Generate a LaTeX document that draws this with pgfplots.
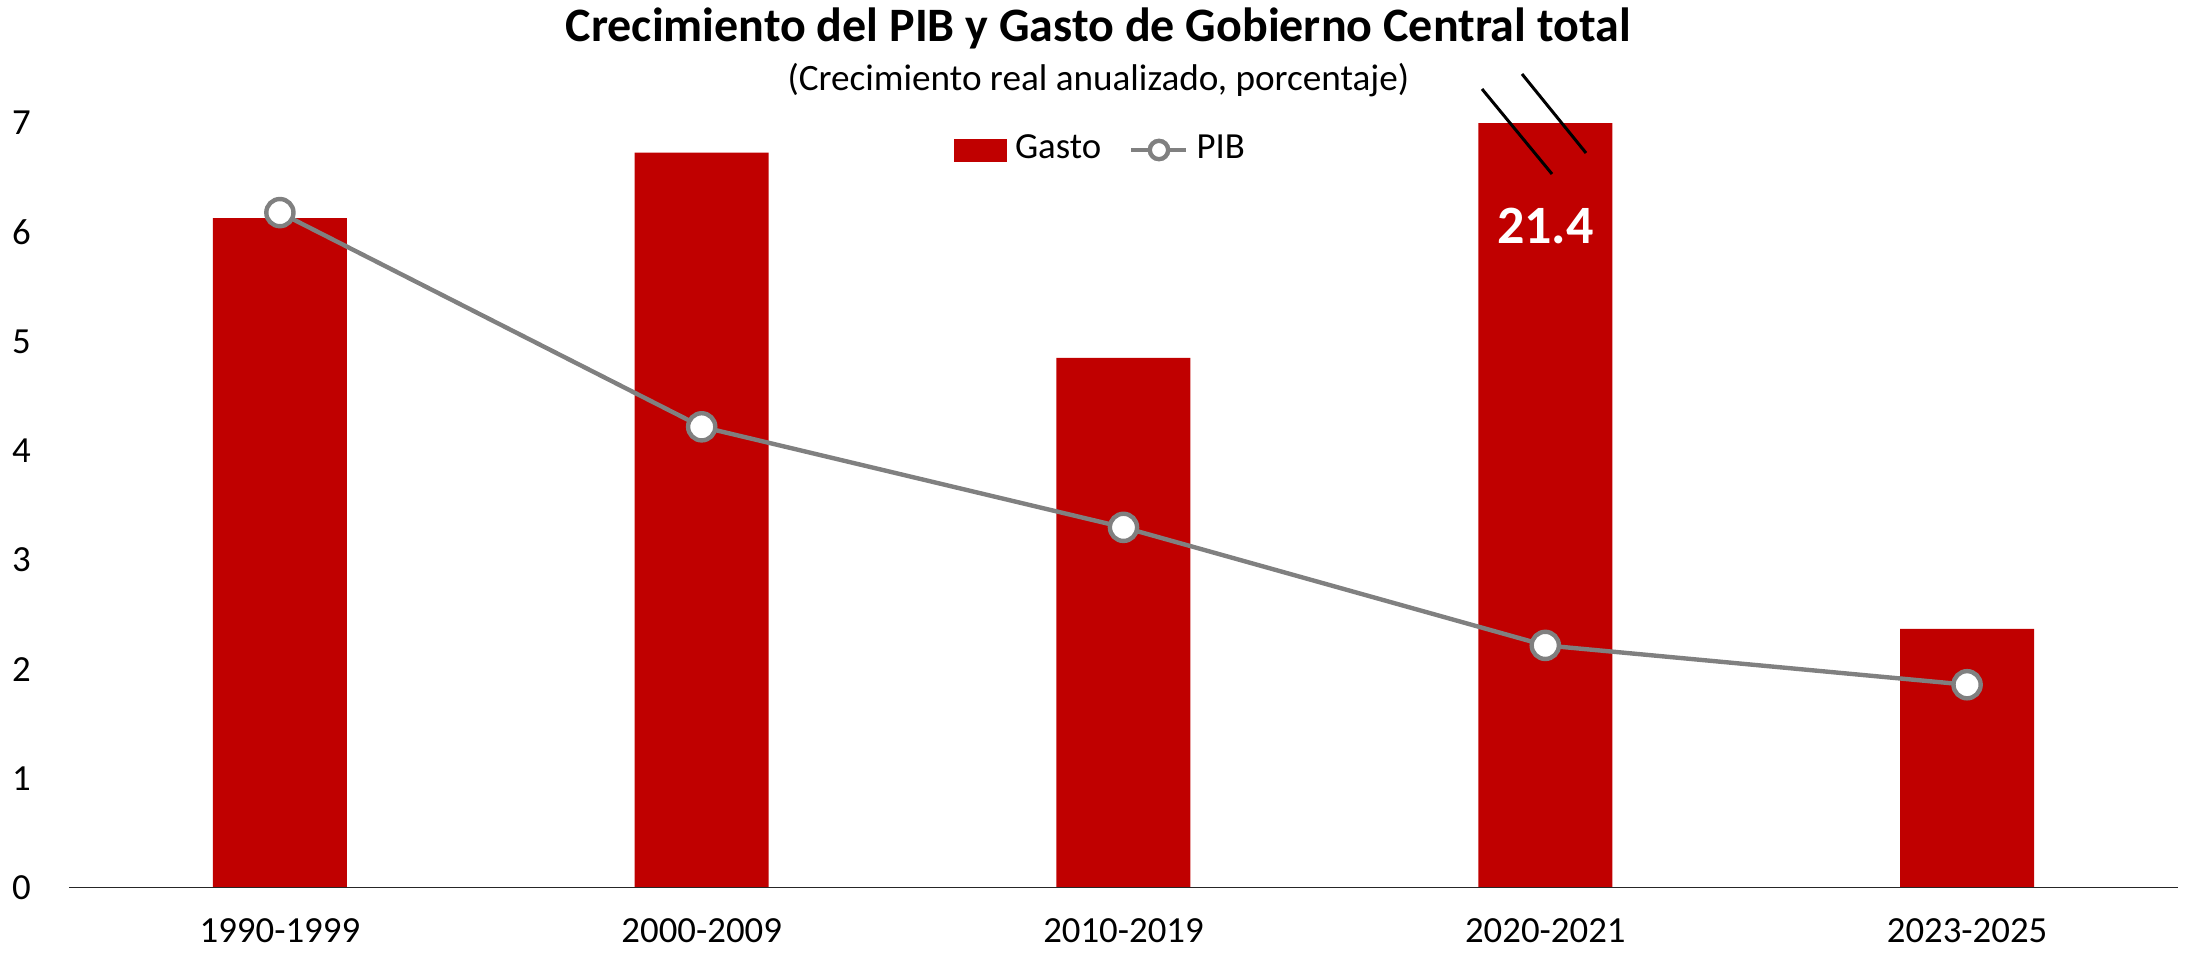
\documentclass[border=0pt]{standalone}
\usepackage{fontspec}
\setmainfont{Carlito}
\usepackage{pgfplots}
\pgfplotsset{compat=1.18}
\definecolor{barred}{RGB}{192,0,0}
\definecolor{pibgray}{RGB}{128,128,128}
\begin{document}
\begin{tikzpicture}
\useasboundingbox (0pt,0pt) rectangle (546.5pt,238.5pt);
\begin{axis}[
  at={(17.25pt,16.5pt)}, anchor=south west,
  scale only axis, width=527.25pt, height=191.25pt,
  xmin=-0.5, xmax=4.5, ymin=0, ymax=7,
  axis line style={draw=none},
  xtick={0,1,2,3,4},
  xticklabels={1990-1999,2000-2009,2010-2019,2020-2021,2023-2025},
  ytick={0,1,2,3,4,5,6,7},
  major tick length=0pt,
  tick label style={font=\fontsize{9.2}{11}\selectfont},
  /pgf/number format/assume math mode=true,
  xticklabel style={yshift=-4pt},
  yticklabel style={xshift=-6pt},
  legend style={at={(0.4905,0.9647)}, anchor=center, draw=none, fill=none,
    legend columns=2, font=\fontsize{9.2}{11}\selectfont,
    /tikz/every odd column/.append style={column sep=0pt},
    /tikz/every even column/.append style={column sep=5pt}},
  legend cell align=left,
]
\addplot[ybar, bar width=33.5pt, fill=barred, draw=none,
  legend image code/.code={\fill[barred] (0pt,-2.875pt) rectangle (13.25pt,2.875pt);}]
  coordinates {(0,6.13) (1,6.73) (2,4.85) (3,21.4) (4,2.37)};
\addlegendentry{Gasto}
\addplot[pibgray, line width=1.1pt, mark=*, mark size=3.4pt,
  mark options={fill=white, draw=pibgray, line width=1.1pt},
  legend image code/.code={\draw[pibgray,line width=1.1pt] (0pt,0pt) -- (13.75pt,0pt);
     \draw[pibgray,line width=1.1pt,fill=white] (6.9pt,0pt) circle (2.3pt);}]
  coordinates {(0,6.18) (1,4.22) (2,3.30) (3,2.22) (4,1.86)};
\addlegendentry{PIB}
\draw[black!85, line width=0.5pt] (rel axis cs:0,0) -- (rel axis cs:1,0);
\node[white, font=\bfseries\fontsize{13.5}{15}\selectfont] at (axis cs:3,6.06) {21.4};
\end{axis}
\node[font=\bfseries\fontsize{12}{14}\selectfont] at (274.6pt,231.5pt) {Crecimiento del PIB y Gasto de Gobierno Central total};
\node[font=\fontsize{9.3}{11}\selectfont] at (274.6pt,218.6pt) {(Crecimiento real anualizado, porcentaje)};
\draw[black, line width=0.75pt] (370.5pt,216.25pt) -- (388pt,195pt);
\draw[black, line width=0.75pt] (380.5pt,220pt) -- (396.5pt,200.25pt);
\end{tikzpicture}
\end{document}
